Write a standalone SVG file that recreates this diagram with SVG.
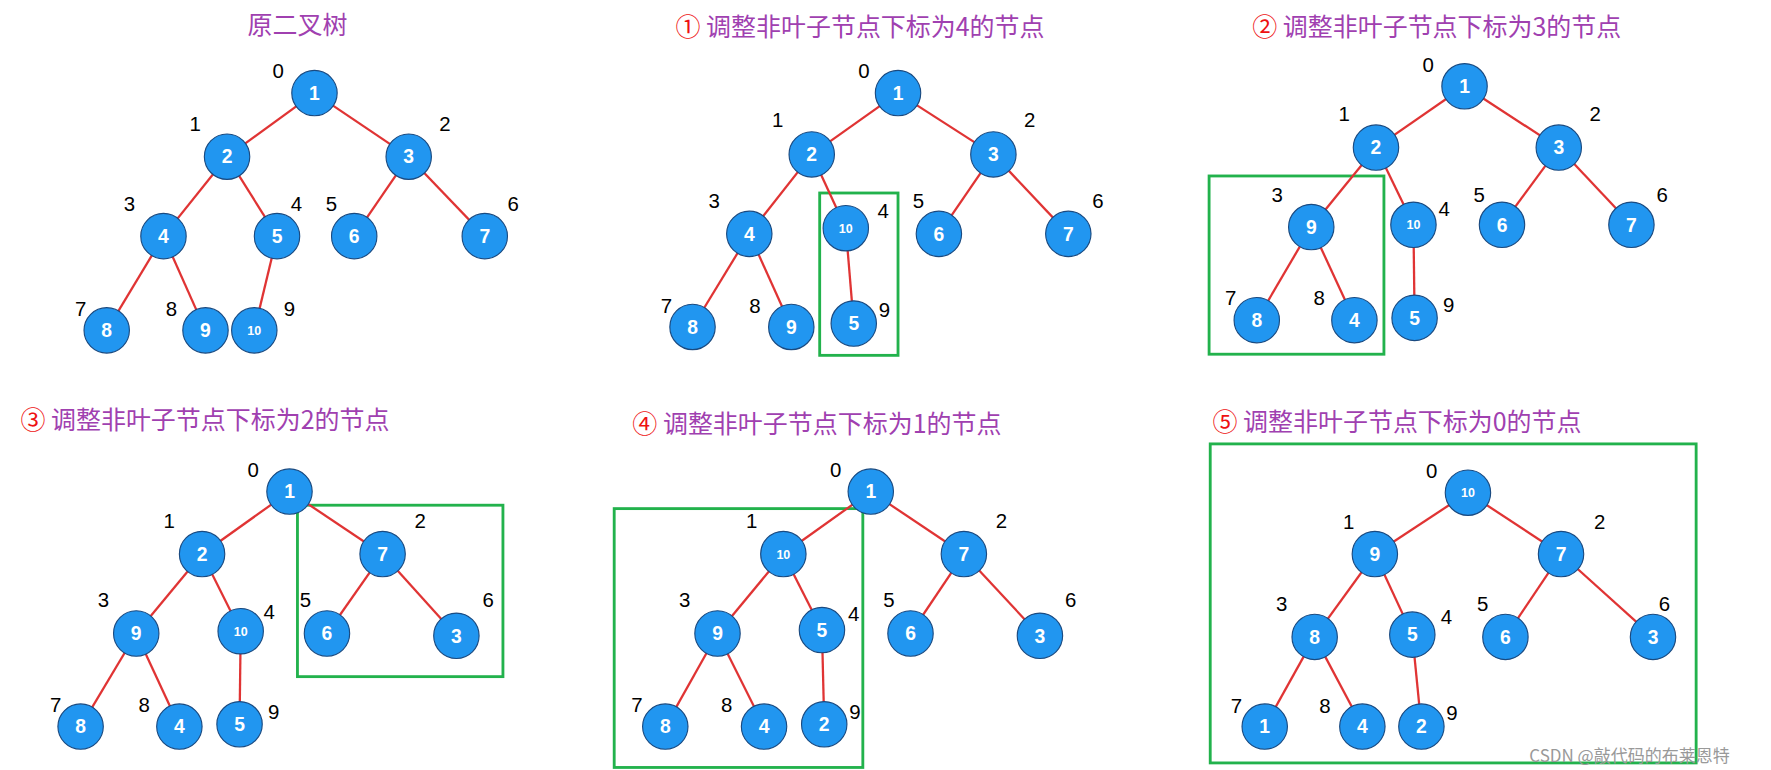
<svg xmlns="http://www.w3.org/2000/svg" width="1771" height="770" viewBox="0 0 1771 770">
<style>
.n circle{fill:#2196F0;stroke:#1a4a80;stroke-width:1}
.n text{fill:#fff;font:bold 17px "Liberation Sans",Arial,sans-serif;text-anchor:middle}
.n text.s{font-size:11px}
.e line{stroke:#e03434;stroke-width:2}
.i{font:18px "Liberation Sans",Arial,sans-serif;fill:#000}
.t{font:22px "Noto Sans CJK SC",sans-serif;fill:#a040b0}
.t tspan.c{fill:#ee1111}
.b{fill:none;stroke:#22b24c;stroke-width:2.5}
</style>
<rect width="1771" height="770" fill="#fff"/>
<g transform="scale(1.1353)">
<g class="t">
<text x="262" y="30" text-anchor="middle">原二叉树</text>
<text x="595" y="32"><tspan class="c">①</tspan>  调整非叶子节点下标为4的节点</text>
<text x="1103" y="32"><tspan class="c">②</tspan>  调整非叶子节点下标为3的节点</text>
<text x="18" y="378"><tspan class="c">③</tspan>  调整非叶子节点下标为2的节点</text>
<text x="557" y="381"><tspan class="c">④</tspan>  调整非叶子节点下标为1的节点</text>
<text x="1068" y="380"><tspan class="c">⑤</tspan>  调整非叶子节点下标为0的节点</text>
</g>
<g id="boxes">
<rect class="b" x="722" y="170" width="69" height="143"/>
<rect class="b" x="1065" y="155" width="154" height="157"/>
<rect class="b" x="262" y="445" width="181" height="151"/>
<rect class="b" x="541" y="448" width="219" height="228"/>
<rect class="b" x="1066" y="391" width="428" height="281"/>
</g>
<g id="connectors" class="e">
<line x1="277" y1="82" x2="200" y2="138"/><line x1="277" y1="82" x2="360" y2="138"/><line x1="200" y1="138" x2="144" y2="208"/><line x1="200" y1="138" x2="244" y2="208"/><line x1="360" y1="138" x2="312" y2="208"/><line x1="360" y1="138" x2="427" y2="208"/><line x1="144" y1="208" x2="94" y2="291"/><line x1="144" y1="208" x2="181" y2="291"/><line x1="244" y1="208" x2="224" y2="291"/>
<line x1="791" y1="82" x2="715" y2="136"/><line x1="791" y1="82" x2="875" y2="136"/><line x1="715" y1="136" x2="660" y2="206"/><line x1="715" y1="136" x2="745" y2="201"/><line x1="875" y1="136" x2="827" y2="206"/><line x1="875" y1="136" x2="941" y2="206"/><line x1="660" y1="206" x2="610" y2="288"/><line x1="660" y1="206" x2="697" y2="288"/><line x1="745" y1="201" x2="752" y2="285"/>
<line x1="1290" y1="76" x2="1212" y2="130"/><line x1="1290" y1="76" x2="1373" y2="130"/><line x1="1212" y1="130" x2="1155" y2="200"/><line x1="1212" y1="130" x2="1245" y2="198"/><line x1="1373" y1="130" x2="1323" y2="198"/><line x1="1373" y1="130" x2="1437" y2="198"/><line x1="1155" y1="200" x2="1107" y2="282"/><line x1="1155" y1="200" x2="1193" y2="282"/><line x1="1245" y1="198" x2="1246" y2="280"/>
<line x1="255" y1="433" x2="178" y2="488"/><line x1="255" y1="433" x2="337" y2="488"/><line x1="178" y1="488" x2="120" y2="558"/><line x1="178" y1="488" x2="212" y2="556"/><line x1="337" y1="488" x2="288" y2="558"/><line x1="337" y1="488" x2="402" y2="560"/><line x1="120" y1="558" x2="71" y2="640"/><line x1="120" y1="558" x2="158" y2="640"/><line x1="212" y1="556" x2="211" y2="638"/>
<line x1="767" y1="433" x2="690" y2="488"/><line x1="767" y1="433" x2="849" y2="488"/><line x1="690" y1="488" x2="632" y2="558"/><line x1="690" y1="488" x2="724" y2="555"/><line x1="849" y1="488" x2="802" y2="558"/><line x1="849" y1="488" x2="916" y2="560"/><line x1="632" y1="558" x2="586" y2="640"/><line x1="632" y1="558" x2="673" y2="640"/><line x1="724" y1="555" x2="726" y2="638"/>
<line x1="1293" y1="434" x2="1211" y2="488"/><line x1="1293" y1="434" x2="1375" y2="488"/><line x1="1211" y1="488" x2="1158" y2="561"/><line x1="1211" y1="488" x2="1244" y2="559"/><line x1="1375" y1="488" x2="1326" y2="561"/><line x1="1375" y1="488" x2="1456" y2="561"/><line x1="1158" y1="561" x2="1114" y2="640"/><line x1="1158" y1="561" x2="1200" y2="640"/><line x1="1244" y1="559" x2="1252" y2="640"/>
</g>
<g class="i">
<text x="240" y="69">0</text><text x="167" y="115">1</text><text x="387" y="115">2</text><text x="109" y="186">3</text><text x="256" y="186">4</text><text x="287" y="186">5</text><text x="447" y="186">6</text><text x="66" y="278">7</text><text x="146" y="278">8</text><text x="250" y="278">9</text>
<text x="756" y="69">0</text><text x="680" y="112">1</text><text x="902" y="112">2</text><text x="624" y="183">3</text><text x="773" y="192">4</text><text x="804" y="183">5</text><text x="962" y="183">6</text><text x="582" y="276">7</text><text x="660" y="276">8</text><text x="774" y="279">9</text>
<text x="1253" y="63">0</text><text x="1179" y="107">1</text><text x="1400" y="107">2</text><text x="1120" y="178">3</text><text x="1267" y="190">4</text><text x="1298" y="178">5</text><text x="1459" y="178">6</text><text x="1079" y="269">7</text><text x="1157" y="269">8</text><text x="1271" y="275">9</text>
<text x="218" y="420">0</text><text x="144" y="465">1</text><text x="365" y="465">2</text><text x="86" y="535">3</text><text x="232" y="545">4</text><text x="264" y="535">5</text><text x="425" y="535">6</text><text x="44" y="627">7</text><text x="122" y="627">8</text><text x="236" y="633">9</text>
<text x="731" y="420">0</text><text x="657" y="465">1</text><text x="877" y="465">2</text><text x="598" y="535">3</text><text x="747" y="547">4</text><text x="778" y="535">5</text><text x="938" y="535">6</text><text x="556" y="627">7</text><text x="635" y="627">8</text><text x="748" y="633">9</text>
<text x="1256" y="421">0</text><text x="1183" y="466">1</text><text x="1404" y="466">2</text><text x="1124" y="538">3</text><text x="1269" y="550">4</text><text x="1301" y="538">5</text><text x="1461" y="538">6</text><text x="1084" y="628">7</text><text x="1162" y="628">8</text><text x="1274" y="634">9</text>
</g>
<g id="p0">
<g id="p0n0" class="n"><circle cx="277" cy="82" r="20"/><text x="277" y="88">1</text></g>
<g id="p0n1" class="n"><circle cx="200" cy="138" r="20"/><text x="200" y="144">2</text></g>
<g id="p0n2" class="n"><circle cx="360" cy="138" r="20"/><text x="360" y="144">3</text></g>
<g id="p0n3" class="n"><circle cx="144" cy="208" r="20"/><text x="144" y="214">4</text></g>
<g id="p0n4" class="n"><circle cx="244" cy="208" r="20"/><text x="244" y="214">5</text></g>
<g id="p0n5" class="n"><circle cx="312" cy="208" r="20"/><text x="312" y="214">6</text></g>
<g id="p0n6" class="n"><circle cx="427" cy="208" r="20"/><text x="427" y="214">7</text></g>
<g id="p0n7" class="n"><circle cx="94" cy="291" r="20"/><text x="94" y="297">8</text></g>
<g id="p0n8" class="n"><circle cx="181" cy="291" r="20"/><text x="181" y="297">9</text></g>
<g id="p0n9" class="n"><circle cx="224" cy="291" r="20"/><text class="s" x="224" y="295">10</text></g>
</g>
<g id="p1">
<g id="p1n0" class="n"><circle cx="791" cy="82" r="20"/><text x="791" y="88">1</text></g>
<g id="p1n1" class="n"><circle cx="715" cy="136" r="20"/><text x="715" y="142">2</text></g>
<g id="p1n2" class="n"><circle cx="875" cy="136" r="20"/><text x="875" y="142">3</text></g>
<g id="p1n3" class="n"><circle cx="660" cy="206" r="20"/><text x="660" y="212">4</text></g>
<g id="p1n4" class="n"><circle cx="745" cy="201" r="20"/><text class="s" x="745" y="205">10</text></g>
<g id="p1n5" class="n"><circle cx="827" cy="206" r="20"/><text x="827" y="212">6</text></g>
<g id="p1n6" class="n"><circle cx="941" cy="206" r="20"/><text x="941" y="212">7</text></g>
<g id="p1n7" class="n"><circle cx="610" cy="288" r="20"/><text x="610" y="294">8</text></g>
<g id="p1n8" class="n"><circle cx="697" cy="288" r="20"/><text x="697" y="294">9</text></g>
<g id="p1n9" class="n"><circle cx="752" cy="285" r="20"/><text x="752" y="291">5</text></g>
</g>
<g id="p2">
<g id="p2n0" class="n"><circle cx="1290" cy="76" r="20"/><text x="1290" y="82">1</text></g>
<g id="p2n1" class="n"><circle cx="1212" cy="130" r="20"/><text x="1212" y="136">2</text></g>
<g id="p2n2" class="n"><circle cx="1373" cy="130" r="20"/><text x="1373" y="136">3</text></g>
<g id="p2n3" class="n"><circle cx="1155" cy="200" r="20"/><text x="1155" y="206">9</text></g>
<g id="p2n4" class="n"><circle cx="1245" cy="198" r="20"/><text class="s" x="1245" y="202">10</text></g>
<g id="p2n5" class="n"><circle cx="1323" cy="198" r="20"/><text x="1323" y="204">6</text></g>
<g id="p2n6" class="n"><circle cx="1437" cy="198" r="20"/><text x="1437" y="204">7</text></g>
<g id="p2n7" class="n"><circle cx="1107" cy="282" r="20"/><text x="1107" y="288">8</text></g>
<g id="p2n8" class="n"><circle cx="1193" cy="282" r="20"/><text x="1193" y="288">4</text></g>
<g id="p2n9" class="n"><circle cx="1246" cy="280" r="20"/><text x="1246" y="286">5</text></g>
</g>
<g id="p3">
<g id="p3n0" class="n"><circle cx="255" cy="433" r="20"/><text x="255" y="439">1</text></g>
<g id="p3n1" class="n"><circle cx="178" cy="488" r="20"/><text x="178" y="494">2</text></g>
<g id="p3n2" class="n"><circle cx="337" cy="488" r="20"/><text x="337" y="494">7</text></g>
<g id="p3n3" class="n"><circle cx="120" cy="558" r="20"/><text x="120" y="564">9</text></g>
<g id="p3n4" class="n"><circle cx="212" cy="556" r="20"/><text class="s" x="212" y="560">10</text></g>
<g id="p3n5" class="n"><circle cx="288" cy="558" r="20"/><text x="288" y="564">6</text></g>
<g id="p3n6" class="n"><circle cx="402" cy="560" r="20"/><text x="402" y="566">3</text></g>
<g id="p3n7" class="n"><circle cx="71" cy="640" r="20"/><text x="71" y="646">8</text></g>
<g id="p3n8" class="n"><circle cx="158" cy="640" r="20"/><text x="158" y="646">4</text></g>
<g id="p3n9" class="n"><circle cx="211" cy="638" r="20"/><text x="211" y="644">5</text></g>
</g>
<g id="p4">
<g id="p4n0" class="n"><circle cx="767" cy="433" r="20"/><text x="767" y="439">1</text></g>
<g id="p4n1" class="n"><circle cx="690" cy="488" r="20"/><text class="s" x="690" y="492">10</text></g>
<g id="p4n2" class="n"><circle cx="849" cy="488" r="20"/><text x="849" y="494">7</text></g>
<g id="p4n3" class="n"><circle cx="632" cy="558" r="20"/><text x="632" y="564">9</text></g>
<g id="p4n4" class="n"><circle cx="724" cy="555" r="20"/><text x="724" y="561">5</text></g>
<g id="p4n5" class="n"><circle cx="802" cy="558" r="20"/><text x="802" y="564">6</text></g>
<g id="p4n6" class="n"><circle cx="916" cy="560" r="20"/><text x="916" y="566">3</text></g>
<g id="p4n7" class="n"><circle cx="586" cy="640" r="20"/><text x="586" y="646">8</text></g>
<g id="p4n8" class="n"><circle cx="673" cy="640" r="20"/><text x="673" y="646">4</text></g>
<g id="p4n9" class="n"><circle cx="726" cy="638" r="20"/><text x="726" y="644">2</text></g>
</g>
<g id="p5">
<g id="p5n0" class="n"><circle cx="1293" cy="434" r="20"/><text class="s" x="1293" y="438">10</text></g>
<g id="p5n1" class="n"><circle cx="1211" cy="488" r="20"/><text x="1211" y="494">9</text></g>
<g id="p5n2" class="n"><circle cx="1375" cy="488" r="20"/><text x="1375" y="494">7</text></g>
<g id="p5n3" class="n"><circle cx="1158" cy="561" r="20"/><text x="1158" y="567">8</text></g>
<g id="p5n4" class="n"><circle cx="1244" cy="559" r="20"/><text x="1244" y="565">5</text></g>
<g id="p5n5" class="n"><circle cx="1326" cy="561" r="20"/><text x="1326" y="567">6</text></g>
<g id="p5n6" class="n"><circle cx="1456" cy="561" r="20"/><text x="1456" y="567">3</text></g>
<g id="p5n7" class="n"><circle cx="1114" cy="640" r="20"/><text x="1114" y="646">1</text></g>
<g id="p5n8" class="n"><circle cx="1200" cy="640" r="20"/><text x="1200" y="646">4</text></g>
<g id="p5n9" class="n"><circle cx="1252" cy="640" r="20"/><text x="1252" y="646">2</text></g>
</g>
<text x="1347" y="671" style="font:15px 'Noto Sans CJK SC',sans-serif;fill:#999">CSDN @敲代码的布莱恩特</text>
</g>
</svg>
